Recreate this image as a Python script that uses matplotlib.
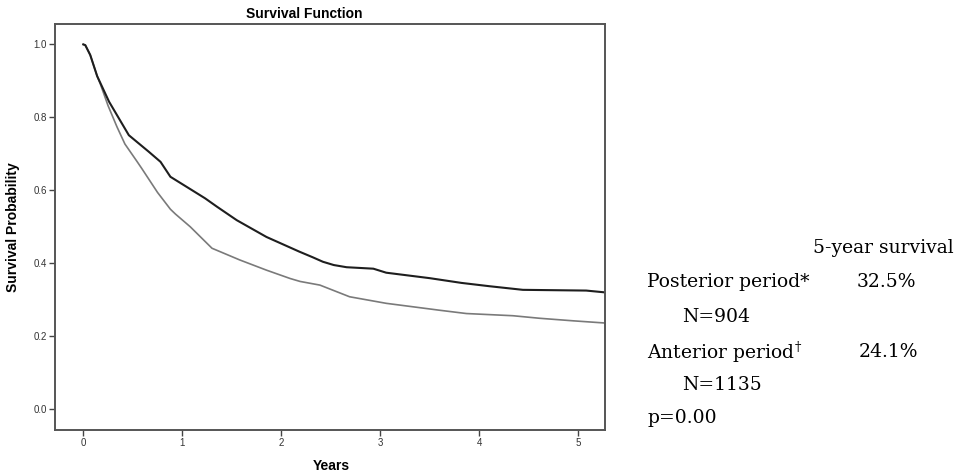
import matplotlib
matplotlib.use("Agg")
import matplotlib.pyplot as plt

plt.rcParams["mathtext.fontset"] = "dejavuserif"

# Kaplan-Meier curves (years, survival probability)
post_t = [0.0, 0.02, 0.07, 0.14, 0.26, 0.46, 0.66, 0.78, 0.88, 1.07, 1.23, 1.35,
          1.55, 1.85, 2.18, 2.32, 2.42, 2.53, 2.66, 2.93, 3.06, 3.50, 3.82, 4.10,
          4.44, 5.08, 5.27]
post_s = [1.0, 0.998, 0.971, 0.913, 0.843, 0.751, 0.706, 0.678, 0.637, 0.605, 0.578, 0.555,
          0.518, 0.472, 0.432, 0.416, 0.404, 0.395, 0.389, 0.385, 0.374, 0.359, 0.346, 0.337,
          0.327, 0.325, 0.320]

ante_t = [0.0, 0.02, 0.07, 0.14, 0.17, 0.25, 0.34, 0.42, 0.54, 0.59, 0.75, 0.88,
          0.93, 1.08, 1.30, 1.58, 1.85, 2.09, 2.19, 2.39, 2.69, 3.06, 3.60, 3.87,
          4.34, 4.61, 4.95, 5.27]
ante_s = [1.0, 0.998, 0.971, 0.913, 0.893, 0.832, 0.774, 0.727, 0.680, 0.660, 0.594, 0.548,
          0.535, 0.500, 0.441, 0.409, 0.381, 0.358, 0.350, 0.340, 0.308, 0.290, 0.271, 0.262,
          0.256, 0.249, 0.242, 0.236]

x_ticks = [0, 1, 2, 3, 4, 5]
y_ticks = [0.0, 0.2, 0.4, 0.6, 0.8, 1.0]

side_text = [
    ("5-year survival", 813, 248),
    ("Posterior period*", 647, 282),
    ("32.5%", 857, 282),
    ("N=904", 682, 317),
    ("Anterior period$^{\\dagger}$", 647, 352),
    ("24.1%", 859, 352),
    ("N=1135", 682, 385),
    ("p=0.00", 647, 418),
]

W, H = 959, 474
fig = plt.figure(figsize=(W / 100, H / 100), dpi=100)
ax = fig.add_axes([55 / W, 1 - 429.5 / H, 550 / W, 405.5 / H])

ax.plot(ante_t, ante_s, color="#7a7a7a", lw=1.2, solid_joinstyle="round")
ax.plot(post_t, post_s, color="#1e1e1e", lw=1.5, solid_joinstyle="round")

ax.set_xlim(-0.286, 5.27)
ax.set_ylim(-0.056, 1.056)
ax.set_xticks(x_ticks)
ax.set_xticklabels([str(v) for v in x_ticks])
ax.set_yticks(y_ticks)
ax.set_yticklabels([f"{v:.1f}" for v in y_ticks])

for sp in ax.spines.values():
    sp.set_color("#555555")
    sp.set_linewidth(1.4)
ax.tick_params(direction="out", length=4, width=1.0, color="#444444",
               labelsize=7, labelcolor="#333333", pad=2)
for lab in ax.get_xticklabels() + ax.get_yticklabels():
    lab.set_family("Liberation Sans")

ax.set_xlabel("Years", family="Liberation Sans", fontweight="bold", fontsize=10)
ax.set_ylabel("Survival Probability", family="Liberation Sans", fontweight="bold",
              fontsize=10)
ax.xaxis.set_label_coords(0.503, -0.072)
ax.yaxis.set_label_coords(-0.064, 0.5)

fig.text(304 / W, 1 - 13.5 / H, "Survival Function", family="Liberation Sans",
         fontweight="bold", fontsize=10, ha="center", va="center")

for txt, px, py in side_text:
    fig.text(px / W, 1 - py / H, txt, family="DejaVu Serif", fontsize=13.5,
             ha="left", va="center")

fig.savefig("out.png", dpi=100)
